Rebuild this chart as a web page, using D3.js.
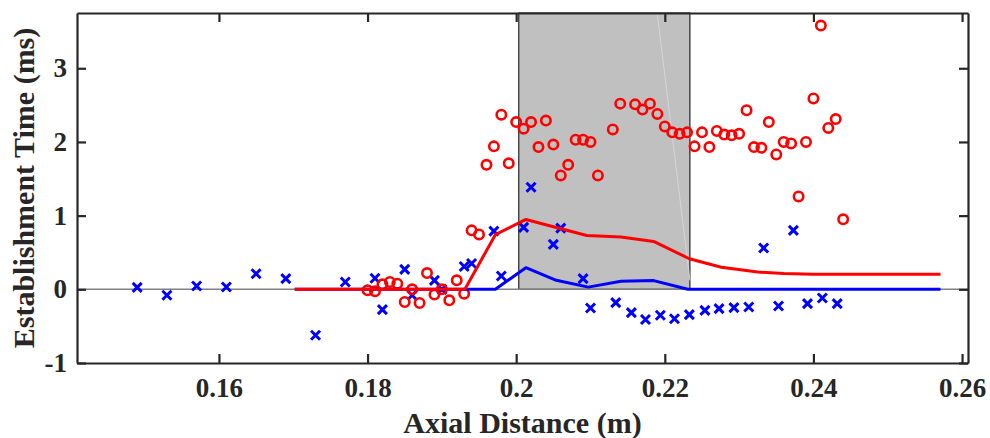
<!DOCTYPE html>
<html>
<head>
<meta charset="utf-8">
<script src="https://cdn.jsdelivr.net/npm/d3@7"></script>
<style>
  html, body { margin: 0; padding: 0; background: #fff; }
  svg { display: block; }
  text { font-family: "Liberation Serif", "Times New Roman", serif; font-weight: bold; fill: #262626; }
</style>
</head>
<body>
<svg id="chart" width="990" height="438"></svg>
<script>
// ---- data ----
const xTicks = [0.16, 0.18, 0.20, 0.22, 0.24, 0.26];
const xTickLabels = ["0.16", "0.18", "0.2", "0.22", "0.24", "0.26"];
const yTicks = [-1, 0, 1, 2, 3];
const yTickLabels = ["-1", "0", "1", "2", "3"];

const xLabel = "Axial Distance (m)";
const yLabel = "Establishment Time (ms)";

const shadedRange = [0.20035, 0.22338];

// red circles
const redX = [0.180,0.181,0.182,0.183,0.184,0.185,0.186,0.187,0.188,0.189,0.190,0.191,0.192,0.193,0.194,0.195,
  0.196,0.197,0.198,0.199,0.200,0.201,0.202,0.203,0.204,0.205,0.206,0.207,0.208,0.209,0.210,0.211,
  0.213,0.214,0.216,0.217,0.218,0.219,0.220,0.221,0.222,0.223,0.224,0.225,0.226,0.227,0.228,0.229,0.230,0.231,
  0.232,0.233,0.234,0.235,0.236,0.237,0.238,0.239,0.240,0.241,0.242,0.243,0.244];
const redY = [-0.014,-0.027,0.068,0.099,0.077,-0.172,0.0,-0.186,0.221,-0.072,0.0,-0.149,0.122,-0.059,0.80,0.745,
  1.69,1.94,2.37,1.71,2.27,2.18,2.27,1.93,2.29,1.965,1.545,1.69,2.03,2.03,2.0,1.545,
  2.17,2.52,2.51,2.44,2.52,2.38,2.21,2.13,2.11,2.13,1.94,2.13,1.93,2.15,2.10,2.09,2.11,2.43,
  1.93,1.92,2.27,1.83,2.0,1.98,1.26,2.0,2.59,3.58,2.19,2.31,0.95];

// blue crosses
const blueX = [0.149,0.153,0.157,0.161,0.165,0.169,0.173,0.177,0.181,0.182,0.185,0.186,0.189,0.190,0.193,0.194,
  0.197,0.198,0.201,0.202,0.205,0.206,0.209,0.210,0.2134,0.2155,0.2174,0.2194,0.2213,0.2233,0.2254,0.2273,
  0.2293,0.2313,0.2333,0.2353,0.2373,0.2392,0.2412,0.2432];
const blueY = [0.027,-0.081,0.045,0.031,0.212,0.145,-0.623,0.099,0.15,-0.275,0.271,-0.08,0.122,0.0,0.31,0.35,
  0.79,0.18,0.84,1.386,0.61,0.83,0.145,-0.253,-0.18,-0.316,-0.41,-0.352,-0.40,-0.343,-0.285,-0.262,
  -0.248,-0.24,0.56,-0.226,0.80,-0.194,-0.118,-0.194];

// red mean line
const redLineX = [0.1702,0.1931,0.1972,0.2013,0.2095,0.2141,0.2185,0.2233,0.2276,0.2325,0.2360,0.2400,0.2571];
const redLineY = [0,0,0.741,0.948,0.73,0.71,0.65,0.415,0.30,0.234,0.215,0.205,0.203];

// blue mean line
const blueLineX = [0.1702,0.1972,0.2013,0.2054,0.2097,0.2141,0.2185,0.2231,0.2571];
const blueLineY = [0,0,0.294,0.122,0.03,0.11,0.118,0,0];

// faint streak inside shaded region
const streakX = [0.21898, 0.22338];
const streakY = [3.75, 0.12];

// ---- chart ----
const L = 77, R = 968, T = 13, B = 363;
const svg = d3.select("#chart");

const x = d3.scaleLinear().domain([0.1409, 0.2608]).range([L, R]);
const y = d3.scaleLinear().domain([-1, 3.75]).range([B, T]);

const axisColor = "#262626";

// shaded region
svg.append("rect")
  .attr("x", x(shadedRange[0]))
  .attr("y", y(3.75))
  .attr("width", x(shadedRange[1]) - x(shadedRange[0]))
  .attr("height", y(0) - y(3.75))
  .attr("fill", "#c0c0c0")
  .attr("stroke", "#000")
  .attr("stroke-width", 1);

svg.append("line")
  .attr("x1", x(streakX[0])).attr("y1", y(streakY[0]))
  .attr("x2", x(streakX[1])).attr("y2", y(streakY[1]))
  .attr("stroke", "#d6d6d6").attr("stroke-width", 1);

// zero line
svg.append("line")
  .attr("x1", L).attr("x2", R)
  .attr("y1", y(0)).attr("y2", y(0))
  .attr("stroke", "#808080")
  .attr("stroke-width", 1.5);

const line = d3.line().x(d => x(d[0])).y(d => y(d[1]));

// blue crosses
const cs = 4.5;
const crossG = svg.append("g");
blueX.forEach((bx, i) => {
  const cx = x(bx), cy = y(blueY[i]);
  crossG.append("path")
    .attr("d", `M${cx-cs},${cy-cs}L${cx+cs},${cy+cs}M${cx-cs},${cy+cs}L${cx+cs},${cy-cs}`)
    .attr("stroke", "#0000ff")
    .attr("stroke-width", 3)
    .attr("fill", "none");
});

// red circles
svg.append("g").selectAll("circle")
  .data(redX.map((v, i) => [v, redY[i]]))
  .join("circle")
  .attr("cx", d => x(d[0]))
  .attr("cy", d => y(d[1]))
  .attr("r", 4.7)
  .attr("fill", "none")
  .attr("stroke", "#ff0000")
  .attr("stroke-width", 2.6);

// lines
svg.append("path")
  .attr("d", line(blueLineX.map((v, i) => [v, blueLineY[i]])))
  .attr("fill", "none").attr("stroke", "#0000ff").attr("stroke-width", 3)
  .attr("stroke-linejoin", "round");
svg.append("path")
  .attr("d", line(redLineX.map((v, i) => [v, redLineY[i]])))
  .attr("fill", "none").attr("stroke", "#ff0000").attr("stroke-width", 3)
  .attr("stroke-linejoin", "round");

// axes
function styleAxis(g) {
  g.select(".domain").attr("stroke", axisColor).attr("stroke-width", 2.2);
  g.selectAll(".tick line").attr("stroke", axisColor).attr("stroke-width", 2.2);
  g.selectAll(".tick text").attr("fill", axisColor)
    .style("font-family", '"Liberation Serif", "Times New Roman", serif')
    .style("font-weight", "bold").style("font-size", "27px");
}

svg.append("g").attr("transform", `translate(0,${B})`)
  .call(d3.axisBottom(x).tickValues(xTicks).tickSize(-9).tickSizeOuter(0).tickPadding(15)
    .tickFormat((d, i) => xTickLabels[i]))
  .call(styleAxis);
svg.append("g").attr("transform", `translate(0,${T})`)
  .call(d3.axisTop(x).tickValues(xTicks).tickSize(-9).tickSizeOuter(0).tickFormat(""))
  .call(styleAxis);
svg.append("g").attr("transform", `translate(${L},0)`)
  .call(d3.axisLeft(y).tickValues(yTicks).tickSize(-9).tickSizeOuter(0).tickPadding(10)
    .tickFormat((d, i) => yTickLabels[i]))
  .call(styleAxis);
svg.append("g").attr("transform", `translate(${R},0)`)
  .call(d3.axisRight(y).tickValues(yTicks).tickSize(-9).tickSizeOuter(0).tickFormat(""))
  .call(styleAxis);

// axis labels
svg.append("text")
  .attr("x", (L + R) / 2).attr("y", 433)
  .attr("text-anchor", "middle")
  .style("font-size", "30px")
  .text(xLabel);
svg.append("text")
  .attr("transform", `translate(34,${(T + B) / 2}) rotate(-90)`)
  .attr("text-anchor", "middle")
  .style("font-size", "30px")
  .text(yLabel);
</script>
</body>
</html>
